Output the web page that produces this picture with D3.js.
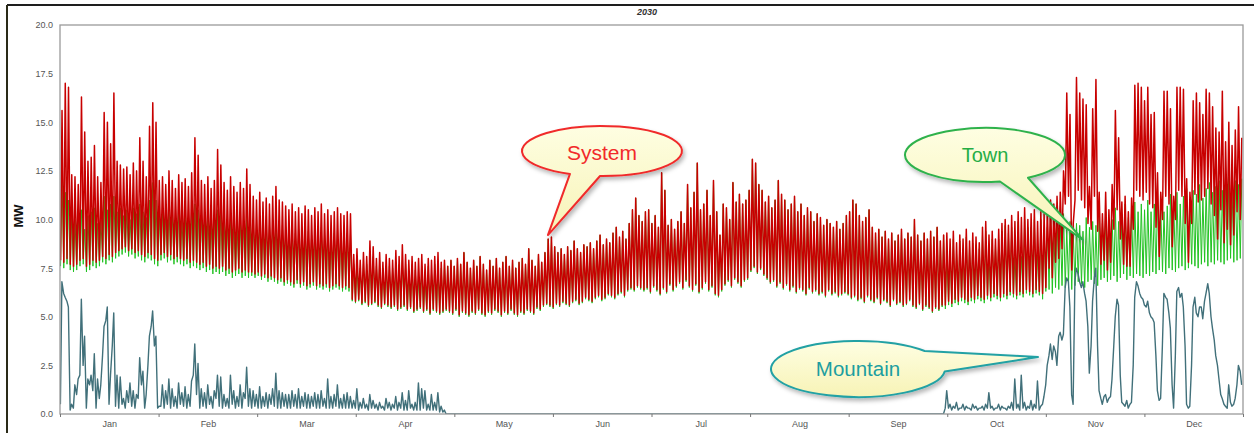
<!DOCTYPE html>
<html>
<head>
<meta charset="utf-8">
<script src="https://cdn.jsdelivr.net/npm/d3@7/dist/d3.min.js"></script>
<style>
html,body{margin:0;padding:0;background:#fff;}
svg{display:block;font-family:"Liberation Sans",Arial,sans-serif;}
</style>
</head>
<body>
<svg id="chart" width="1254" height="433"></svg>
<script>
// ---------------- DATA (one low/high pair per day, grouped by month) ----------------
const chartTitle = "2030";
const yLabel = "MW";
const monthNames = ["Jan","Feb","Mar","Apr","May","Jun","Jul","Aug","Sep","Oct","Nov","Dec"];
const monthDays = [31,28,31,30,31,30,31,31,30,31,30,31];
const yTickValues = [0,2.5,5,7.5,10,12.5,15,17.5,20];

// System daily peaks (MW)
const systemHigh = [
 [15.6,17.0,16.8,12.3,12.2,11.8,16.3,14.5,13.0,13.2,13.8,12.2,11.9,15.5,15.0,13.9,16.5,13.0,12.8,12.6,12.7,12.3,12.9,12.5,14.2,13.0,12.2,14.8,16.0,15.0,12.0],
 [12.2,11.8,12.5,12.0,11.6,12.3,11.9,12.1,11.7,12.4,14.2,13.3,12.0,11.8,12.2,11.6,12.0,13.6,12.8,11.9,11.5,12.2,11.7,11.4,11.9,11.6,12.6,11.8],
 [11.2,11.0,11.4,10.9,11.1,10.8,11.2,11.7,11.0,10.9,10.7,10.5,10.8,10.4,10.6,10.3,10.7,10.5,10.2,10.6,10.4,10.8,10.3,10.5,10.2,10.4,10.6,10.3,10.2,10.4,10.3],
 [8.2,8.5,7.9,8.3,8.1,8.9,8.6,8.0,8.3,7.8,8.2,8.0,7.9,8.4,8.1,8.7,8.2,7.9,8.1,7.8,8.0,8.2,7.7,8.0,7.9,8.1,8.3,7.8,7.9,7.6],
 [7.9,7.6,8.0,7.7,8.3,7.8,7.5,7.9,7.6,8.1,7.7,7.4,7.9,7.6,8.0,7.5,7.8,8.1,7.6,7.9,7.5,7.8,8.0,7.7,8.5,7.9,7.6,8.2,7.8,8.3,9.0],
 [9.1,8.6,8.3,8.5,8.2,8.6,8.4,8.9,8.5,8.3,8.7,8.6,8.8,8.5,8.9,9.2,8.7,9.0,8.8,9.3,9.6,9.1,9.4,9.0,9.8,10.5,11.1,10.2,9.9,10.4],
 [10.5,9.8,10.2,9.6,12.4,11.5,9.7,10.0,9.5,9.9,10.4,9.8,11.8,10.6,11.4,12.9,10.5,10.8,11.5,10.2,12.0,10.4,9.2,10.8,10.6,10.0,11.9,10.9,11.3,10.8,11.0],
 [11.5,13.1,12.9,11.8,11.5,10.9,11.2,10.6,11.0,12.0,11.3,11.0,10.5,10.8,11.2,10.4,10.8,10.2,10.6,10.4,9.9,10.3,10.1,9.7,10.0,9.8,9.6,9.9,9.5,9.8,10.2],
 [10.4,11.0,10.8,10.2,9.9,10.1,10.5,9.6,9.3,9.5,9.1,9.4,9.0,9.3,8.9,9.2,9.5,9.0,9.3,9.1,10.0,9.2,8.9,9.3,9.0,9.4,9.1,9.6,8.9,9.2],
 [9.3,9.0,9.4,8.8,9.2,9.0,9.5,8.9,9.3,9.1,8.8,9.6,9.9,9.2,9.4,9.0,9.5,9.8,10.0,9.7,10.2,9.9,10.4,10.1,10.6,10.0,10.3,10.5,9.9,10.4,10.3],
 [10.5,11.0,10.8,11.2,11.4,12.5,16.5,15.4,9.8,17.3,16.5,16.2,15.9,11.7,15.7,17.2,11.4,10.3,11.4,10.5,11.8,15.6,14.2,10.9,11.2,10.4,11.1,16.9,17.0,16.8],
 [16.1,16.8,15.4,15.5,12.4,11.4,16.6,16.6,15.7,11.2,16.8,16.8,16.7,12.1,11.4,16.1,16.5,16.0,15.4,16.7,16.5,15.8,14.7,14.5,16.6,14.0,15.0,13.8,14.6,15.8,14.2]
];
// System daily lows (MW)
const systemLow = [
 [7.9,7.8,8.0,7.7,7.6,7.7,7.9,8.0,7.6,7.7,7.9,7.8,7.9,8.1,8.0,8.2,8.1,8.3,8.4,8.5,8.6,8.4,8.5,8.3,8.4,8.2,8.1,8.3,8.2,8.0,7.9],
 [8.2,8.3,8.1,8.2,8.0,8.1,8.0,7.9,8.0,7.8,7.9,7.8,7.7,7.8,7.6,7.7,7.5,7.6,7.5,7.6,7.4,7.5,7.3,7.4,7.5,7.3,7.4,7.3],
 [7.3,7.2,7.3,7.1,7.2,7.0,7.1,7.0,6.9,7.0,6.8,6.9,6.8,6.7,6.9,6.7,6.8,6.6,6.7,6.8,6.6,6.7,6.6,6.7,6.5,6.6,6.7,6.6,6.5,6.6,6.5],
 [5.9,5.8,5.9,5.7,5.8,5.6,5.7,5.8,5.6,5.5,5.7,5.6,5.5,5.6,5.4,5.5,5.6,5.4,5.5,5.3,5.4,5.5,5.3,5.4,5.2,5.4,5.3,5.2,5.3,5.4],
 [5.3,5.2,5.4,5.1,5.3,5.2,5.1,5.3,5.2,5.4,5.2,5.1,5.3,5.2,5.4,5.3,5.1,5.3,5.2,5.4,5.2,5.1,5.3,5.2,5.4,5.3,5.2,5.5,5.4,5.6,5.7],
 [5.6,5.5,5.7,5.6,5.8,5.7,5.6,5.8,5.9,5.7,5.8,6.0,5.9,5.8,6.0,6.1,5.9,6.0,6.2,6.1,6.0,6.2,6.3,6.1,6.4,6.5,6.4,6.6,6.5,6.4],
 [6.5,6.3,6.6,6.4,6.2,6.5,6.3,6.7,6.4,6.6,6.8,6.5,6.9,6.6,6.4,6.7,6.3,6.5,6.8,6.4,6.6,6.2,6.1,6.4,6.7,6.9,6.6,7.0,6.8,6.6,6.9],
 [7.0,7.4,7.6,7.3,7.5,7.2,7.0,6.8,6.9,6.6,6.8,6.5,6.7,6.4,6.6,6.3,6.5,6.4,6.2,6.5,6.3,6.4,6.2,6.3,6.1,6.4,6.2,6.3,6.1,6.2,6.3],
 [6.2,6.0,6.1,5.9,6.0,5.8,6.1,5.9,5.8,6.0,5.7,5.9,5.8,5.6,5.9,5.7,5.8,5.6,5.7,5.9,5.6,5.5,5.7,5.4,5.6,5.5,5.3,5.5,5.4,5.6],
 [5.6,5.8,5.7,5.9,5.8,6.0,5.9,5.8,6.0,5.9,6.1,6.0,5.9,6.1,6.0,6.2,6.1,6.0,6.2,6.1,6.3,6.2,6.1,6.3,6.2,6.4,6.3,6.2,6.4,6.3,6.2],
 [6.5,7.5,7.0,7.8,8.0,8.5,10.8,11.2,7.4,11.0,11.5,11.0,10.6,9.8,9.5,11.2,9.4,7.7,7.9,7.4,7.8,9.5,10.5,9.0,7.7,7.6,7.6,9.5,11.5,11.2],
 [11.0,11.4,10.8,10.6,9.6,8.1,10.0,11.2,10.8,8.6,10.0,11.5,11.2,9.8,7.8,9.8,11.3,10.9,11.0,11.2,11.6,10.8,10.2,9.0,10.5,8.8,9.5,8.7,9.2,10.4,10.0]
];
// Town daily peaks (MW)
const townHigh = [
 [12.0,11.4,11.0,10.2,10.0,10.3,10.5,9.5,10.2,10.4,10.6,9.8,10.0,11.2,10.5,10.8,11.2,10.4,10.6,10.2,10.5,10.0,10.6,10.3,10.8,10.4,10.1,11.0,11.9,11.0,10.2],
 [10.4,10.2,10.6,10.3,10.0,10.5,10.1,10.3,10.0,10.4,10.8,10.5,10.2,10.0,10.3,9.9,10.1,10.5,10.4,10.0,9.8,10.2,9.9,9.7,10.0,9.8,10.2,9.9],
 [10.0,9.8,10.1,9.8,9.9,9.7,10.0,10.2,9.8,9.7,9.6,9.5,9.7,9.3,9.5,9.3,9.5,9.4,9.2,9.5,9.3,9.6,9.2,9.4,9.2,9.3,9.5,9.3,9.2,9.3,9.3],
 [7.7,7.6,7.5,7.7,7.7,8.2,8.1,7.6,7.9,7.5,7.6,7.6,7.5,7.8,7.7,7.9,7.7,7.1,7.7,7.4,6.9,7.6,6.9,7.6,7.2,7.7,7.5,7.5,7.8,7.6],
 [7.9,7.6,8.0,7.7,8.3,7.8,7.5,7.9,7.6,8.1,7.7,7.4,7.9,7.6,8.0,7.5,7.8,8.1,7.6,7.9,7.5,7.8,8.0,7.7,8.5,7.9,7.6,8.2,7.8,8.3,9.0],
 [9.1,8.6,8.3,8.5,8.2,8.6,8.4,8.9,8.5,8.3,8.7,8.6,8.8,8.5,8.9,9.2,8.7,9.0,8.8,9.3,9.6,9.1,9.4,9.0,9.8,10.5,11.1,10.2,9.9,10.4],
 [10.5,9.8,10.2,9.6,12.4,11.5,9.7,10.0,9.5,9.9,10.4,9.8,11.8,10.6,11.4,12.9,10.5,10.8,11.5,10.2,12.0,10.4,9.2,10.8,10.6,10.0,11.9,10.9,11.3,10.8,11.0],
 [11.5,13.1,12.9,11.8,11.5,10.9,11.2,10.6,11.0,12.0,11.3,11.0,10.5,10.8,11.2,10.4,10.8,10.2,10.6,10.4,9.9,10.3,10.1,9.7,10.0,9.8,9.6,9.9,9.5,9.8,10.2],
 [10.4,11.0,10.8,10.2,9.9,10.1,10.5,9.6,9.3,9.5,9.1,9.4,9.0,9.3,8.9,9.2,9.5,9.0,9.3,9.1,10.0,9.2,8.9,9.3,9.0,9.4,9.1,9.6,8.9,9.2],
 [8.1,8.5,9.0,8.2,8.9,8.5,9.1,8.6,8.8,8.7,8.5,9.2,9.4,8.1,9.0,8.7,9.0,9.4,9.7,9.3,9.6,8.1,9.9,8.1,10.0,9.6,9.6,10.0,8.2,10.0,9.4],
 [9.6,10.2,9.4,10.5,9.8,10.3,9.5,9.9,9.3,9.8,9.7,9.4,10.1,9.6,9.9,9.7,10.2,9.8,10.4,9.7,10.0,10.6,9.9,10.3,10.8,10.1,10.5,10.9,10.4,10.8],
 [10.5,11.0,10.4,10.8,11.2,10.6,10.4,10.7,11.3,10.9,11.4,10.8,11.2,11.6,11.0,11.5,11.3,11.8,11.1,11.6,11.9,11.4,11.7,12.0,11.5,11.9,12.2,11.6,12.0,11.8,12.1]
];
// Town daily lows (MW)
const townLow = [
 [7.6,7.5,7.7,7.4,7.3,7.4,7.6,7.7,7.3,7.4,7.6,7.5,7.6,7.8,7.7,7.9,7.8,8.0,8.1,8.2,8.3,8.1,8.2,8.0,8.1,7.9,7.8,8.0,7.9,7.7,7.6],
 [7.9,8.0,7.8,7.9,7.7,7.8,7.7,7.6,7.7,7.5,7.6,7.5,7.4,7.5,7.3,7.4,7.2,7.3,7.2,7.3,7.1,7.2,7.0,7.1,7.2,7.0,7.1,7.0],
 [7.1,7.0,7.1,6.9,7.0,6.8,6.9,6.8,6.7,6.8,6.6,6.7,6.6,6.5,6.7,6.5,6.6,6.4,6.5,6.6,6.4,6.5,6.4,6.5,6.3,6.4,6.5,6.4,6.3,6.4,6.3],
 [5.8,5.7,5.8,5.6,5.7,5.5,5.6,5.7,5.5,5.4,5.6,5.5,5.4,5.5,5.3,5.4,5.5,5.3,5.4,5.2,5.3,5.4,5.2,5.3,5.1,5.3,5.2,5.1,5.2,5.3],
 [5.2,5.1,5.3,5.0,5.2,5.1,5.0,5.2,5.1,5.3,5.1,5.0,5.2,5.1,5.3,5.2,5.0,5.2,5.1,5.3,5.1,5.0,5.2,5.1,5.3,5.2,5.1,5.4,5.3,5.5,5.6],
 [5.5,5.4,5.6,5.5,5.7,5.6,5.5,5.7,5.8,5.6,5.7,5.9,5.8,5.7,5.9,6.0,5.8,5.9,6.1,6.0,5.9,6.1,6.2,6.0,6.3,6.4,6.3,6.5,6.4,6.3],
 [6.4,6.2,6.5,6.3,6.1,6.4,6.2,6.6,6.3,6.5,6.7,6.4,6.8,6.5,6.3,6.6,6.2,6.4,6.7,6.3,6.5,6.1,6.0,6.3,6.6,6.8,6.5,6.9,6.7,6.5,6.8],
 [6.9,7.3,7.5,7.2,7.4,7.1,6.9,6.7,6.8,6.5,6.7,6.4,6.6,6.3,6.5,6.2,6.4,6.3,6.1,6.4,6.2,6.3,6.1,6.2,6.0,6.3,6.1,6.2,6.0,6.1,6.2],
 [6.1,5.9,6.0,5.8,5.9,5.7,6.0,5.8,5.7,5.9,5.6,5.8,5.7,5.5,5.8,5.6,5.7,5.5,5.6,5.8,5.5,5.4,5.6,5.3,5.5,5.4,5.2,5.4,5.3,5.5],
 [5.4,5.6,5.5,5.7,5.6,5.8,5.7,5.6,5.8,5.7,5.9,5.8,5.7,5.9,5.8,6.0,5.9,5.8,6.0,5.9,6.1,6.0,5.9,6.1,6.0,6.2,6.1,6.0,6.2,6.1,5.9],
 [6.3,6.4,6.2,6.5,6.4,6.6,6.5,6.7,6.4,6.6,6.8,6.7,6.5,6.8,6.9,6.7,6.6,6.9,7.0,6.8,6.9,7.1,6.8,7.0,7.2,6.9,7.1,7.0,7.2,7.1],
 [7.0,7.2,7.1,7.3,7.2,7.4,7.3,7.2,7.5,7.4,7.3,7.5,7.6,7.4,7.5,7.7,7.6,7.5,7.7,7.8,7.6,7.8,7.7,7.9,7.8,7.7,7.9,8.0,7.8,7.9,8.0]
];
// Mountain, night-time value per day (MW)
const mountainNight = [
 [0.5,6.2,5.8,0.2,0.3,1.0,2.0,2.5,0.3,1.5,1.2,0.3,0.8,3.0,4.8,0.5,3.5,0.4,0.3,0.5,0.3,0.6,0.4,0.3,0.8,1.5,0.3,2.5,4.5,3.5,0.3],
 [0.4,0.3,0.5,0.3,0.4,0.3,0.5,0.4,0.3,0.4,2.0,1.0,0.3,0.4,0.3,0.5,0.3,0.8,0.4,0.3,0.4,0.3,0.5,0.3,0.4,0.3,0.8,0.4],
 [0.3,0.4,0.3,0.3,0.4,0.3,0.5,0.4,0.3,0.3,0.4,0.3,0.3,0.4,0.3,0.3,0.4,0.3,0.3,0.4,0.3,0.3,0.4,0.3,0.3,0.3,0.4,0.3,0.3,0.3,0.3],
 [0.3,0.3,0.2,0.3,0.3,0.2,0.3,0.3,0.2,0.3,0.2,0.3,0.2,0.3,0.2,0.3,0.2,0.2,0.3,0.2,0.2,0.2,0.3,0.2,0.2,0.2,0.2,0.1,0.1,0.0],
 [0,0,0,0,0,0,0,0,0,0,0,0,0,0,0,0,0,0,0,0,0,0,0,0,0,0,0,0,0,0,0],
 [0,0,0,0,0,0,0,0,0,0,0,0,0,0,0,0,0,0,0,0,0,0,0,0,0,0,0,0,0,0],
 [0,0,0,0,0,0,0,0,0,0,0,0,0,0,0,0,0,0,0,0,0,0,0,0,0,0,0,0,0,0,0],
 [0,0,0,0,0,0,0,0,0,0,0,0,0,0,0,0,0,0,0,0,0,0,0,0,0,0,0,0,0,0,0],
 [0,0,0,0,0,0,0,0,0,0,0,0,0,0,0,0,0,0,0,0,0,0,0,0,0,0,0,0,0,0],
 [0.3,0.3,0.2,0.3,0.2,0.3,0.2,0.3,0.2,0.3,0.2,0.3,0.2,0.3,0.3,0.2,0.3,0.2,0.3,0.2,0.3,0.2,0.3,0.2,0.3,0.2,0.3,0.2,0.3,0.2,0.5],
 [1.5,3.0,2.8,3.2,4.0,3.8,6.5,6.8,1.0,6.8,7.2,6.5,6.2,4.5,3.5,7.0,3.5,0.8,0.9,0.6,0.9,3.5,5.9,2.0,0.5,0.7,0.5,2.5,6.8,6.2],
 [5.9,5.5,5.2,4.9,3.0,0.7,3.5,6.0,5.2,1.5,3.0,6.5,6.2,3.5,0.3,2.5,6.0,5.0,5.5,5.8,6.7,5.0,3.8,2.5,1.0,0.5,0.3,0.6,0.5,1.5,2.2]
];
// Mountain, day-time value per day (MW)
const mountainDay = [
 [6.8,6.0,5.5,0.5,1.5,1.8,5.9,4.0,1.8,2.0,3.1,1.8,1.5,4.5,5.5,2.0,5.2,2.0,1.9,0.8,1.2,1.6,1.2,1.0,2.9,2.2,1.0,4.0,5.3,4.0,0.4],
 [1.5,1.2,1.8,1.3,0.9,1.6,1.1,1.4,1.0,1.7,3.6,2.6,1.3,1.1,1.5,0.9,1.2,2.0,1.9,1.0,0.8,2.0,1.2,0.9,1.5,1.1,2.4,1.3],
 [1.2,1.0,1.4,0.9,1.1,1.0,1.3,2.1,1.2,1.1,1.0,1.0,1.2,1.0,1.3,0.9,1.1,1.0,0.9,1.1,1.0,1.2,0.8,1.8,0.9,1.0,1.5,0.8,1.0,1.1,0.9],
 [0.7,1.3,0.6,0.8,0.5,1.0,0.7,0.5,0.6,0.4,0.8,0.6,0.5,0.9,0.6,1.1,0.7,1.2,0.5,0.6,1.6,1.3,1.2,0.5,1.0,0.6,1.1,0.4,0.2,0.0],
 [0,0,0,0,0,0,0,0,0,0,0,0,0,0,0,0,0,0,0,0,0,0,0,0,0,0,0,0,0,0,0],
 [0,0,0,0,0,0,0,0,0,0,0,0,0,0,0,0,0,0,0,0,0,0,0,0,0,0,0,0,0,0],
 [0,0,0,0,0,0,0,0,0,0,0,0,0,0,0,0,0,0,0,0,0,0,0,0,0,0,0,0,0,0,0],
 [0,0,0,0,0,0,0,0,0,0,0,0,0,0,0,0,0,0,0,0,0,0,0,0,0,0,0,0,0,0,0],
 [0,0,0,0,0,0,0,0,0,0,0,0,0,0,0,0,0,0,0,0,0,0,0,0,0,0,0,0,0,0],
 [1.2,0.5,0.4,0.6,0.3,0.5,0.4,0.3,0.5,0.4,0.3,0.4,0.5,1.1,0.4,0.3,0.5,0.4,0.3,0.4,0.6,1.8,0.5,2.0,0.6,0.4,0.7,0.5,1.7,0.4,0.9],
 [2.5,3.6,3.5,2.5,4.2,4.1,7.0,5.5,0.5,7.5,6.8,6.8,5.8,2.1,5.8,7.5,1.2,0.5,1.0,0.8,1.8,5.0,5.6,0.6,0.4,0.3,0.6,6.0,6.6,6.0],
 [5.6,5.8,5.0,4.7,1.2,0.8,6.2,5.9,4.4,0.3,6.3,6.0,5.5,0.5,0.4,5.5,5.2,5.5,4.9,6.2,6.2,4.4,3.0,1.8,0.8,0.4,1.5,0.4,0.8,2.5,1.5]
];
// Callout labels: text and the data point each tail points at [hour of year, MW]
const calloutSystem = {text:"System", tip:[3613, 9.2]};
const calloutTown = {text:"Town", tip:[7575, 8.95]};
const calloutMountain = {text:"Mountain", tip:[7242, 2.93]};

// ---------------- CHART ----------------
const W = 1254, H = 433;
const X0 = 60, X1 = 1243, Y0 = 414, Y1 = 25;
const HOURS = 8760, MONTH_H = 730;
const svg = d3.select("#chart");
const x = d3.scaleLinear().domain([0, HOURS]).range([X0, X1]);
const y = d3.scaleLinear().domain([0, 20]).range([Y0, Y1]);

svg.append("rect").attr("width", W).attr("height", H).attr("fill", "#fff");

const defs = svg.append("defs");
defs.append("clipPath").attr("id", "plotClip")
  .append("rect").attr("x", X0).attr("y", Y1).attr("width", X1 - X0).attr("height", Y0 - Y1);
const flt = defs.append("filter").attr("id", "shadow")
  .attr("x", "-20%").attr("y", "-30%").attr("width", "140%").attr("height", "170%");
flt.append("feDropShadow").attr("dx", 2).attr("dy", 3).attr("stdDeviation", 2.2)
  .attr("flood-color", "#000").attr("flood-opacity", 0.28);
const grad = defs.append("linearGradient").attr("id", "bubbleFill")
  .attr("x1", 0).attr("y1", 0).attr("x2", 0).attr("y2", 1);
grad.append("stop").attr("offset", "0%").attr("stop-color", "#fefee2");
grad.append("stop").attr("offset", "100%").attr("stop-color", "#f7f3b6");

// outer frame
svg.append("line").attr("x1", 7).attr("x2", W).attr("y1", 5).attr("y2", 5)
  .attr("stroke", "#1e1e1e").attr("stroke-width", 2);
svg.append("line").attr("x1", 7).attr("x2", 7).attr("y1", 5).attr("y2", H)
  .attr("stroke", "#2a2a18").attr("stroke-width", 2);

// title
svg.append("text").attr("x", 647).attr("y", 15).attr("text-anchor", "middle")
  .attr("font-size", 9).attr("font-style", "italic").attr("font-weight", "bold")
  .attr("fill", "#333").text(chartTitle);

// build series: two points per day
function buildSeries(a, b, ha, hb) {
  const pts = [];
  let start = 0;
  a.forEach((mArr, m) => {
    mArr.forEach((v, i) => {
      const d = start + i;
      pts.push([d * 24 + ha, v]);
      if (b[m] && b[m][i] !== undefined) pts.push([d * 24 + hb, b[m][i]]);
    });
    start += monthDays[m];
  });
  return pts;
}
const line = d3.line().x(d => x(d[0])).y(d => y(d[1]));
const plot = svg.append("g").attr("clip-path", "url(#plotClip)");

plot.append("path").datum(buildSeries(townLow, townHigh, 4, 15)).attr("d", line)
  .attr("fill", "none").attr("stroke", "#22c222").attr("stroke-width", 1.0).attr("stroke-linejoin", "round");
plot.append("path").datum(buildSeries(systemLow, systemHigh, 4, 15)).attr("d", line)
  .attr("fill", "none").attr("stroke", "#c80000").attr("stroke-width", 1.5).attr("stroke-linejoin", "round");
plot.append("path").datum(buildSeries(mountainNight, mountainDay, 3, 14)).attr("d", line)
  .attr("fill", "none").attr("stroke", "#41707a").attr("stroke-width", 1.4).attr("stroke-linejoin", "round");

// plot border
svg.append("rect").attr("x", X0).attr("y", Y1).attr("width", X1 - X0).attr("height", Y0 - Y1)
  .attr("fill", "none").attr("stroke", "#9a9a9a").attr("stroke-width", 1.3);

// x axis: month boundary ticks + centered month labels
const xt = svg.append("g").attr("transform", `translate(0,${Y0})`)
  .call(d3.axisBottom(x).tickValues(d3.range(monthNames.length + 1).map(k => k * MONTH_H)).tickSize(3).tickFormat(""));
xt.select(".domain").remove();
xt.selectAll(".tick line").attr("stroke", "#777");
const xl = svg.append("g").attr("transform", `translate(0,${Y0})`)
  .call(d3.axisBottom(x).tickValues(monthNames.map((m, i) => (i + 0.5) * MONTH_H)).tickSize(0).tickPadding(7)
    .tickFormat((d, i) => monthNames[i]));
xl.select(".domain").remove();
xl.selectAll("text").attr("font-size", 9).attr("fill", "#555").attr("font-family", "Liberation Sans, Arial, sans-serif");

// y axis
const ya = svg.append("g").attr("transform", `translate(${X0},0)`)
  .call(d3.axisLeft(y).tickValues(yTickValues).tickFormat(d3.format(".1f")).tickSize(0).tickPadding(7));
ya.select(".domain").remove();
ya.selectAll("text").attr("font-size", 9).attr("fill", "#555").attr("font-family", "Liberation Sans, Arial, sans-serif");

svg.append("text").attr("transform", "translate(23,216) rotate(-90)").attr("text-anchor", "middle")
  .attr("font-size", 13).attr("font-weight", "bold").attr("fill", "#111").text(yLabel);

// callout bubbles
function bubble(cx, cy, rx, ry, tA, tB, tipData, stroke, textColor, label, fs, baseY) {
  const r = Math.PI / 180;
  const p = t => [cx + rx * Math.cos(t * r), cy + ry * Math.sin(t * r)];
  const a = p(tA), b = p(tB);
  const tip = [x(tipData[0]), y(tipData[1])];
  const g = svg.append("g").attr("filter", "url(#shadow)");
  g.append("path")
    .attr("d", `M${b[0]},${b[1]} A${rx},${ry} 0 1 1 ${a[0]},${a[1]} L${tip[0]},${tip[1]} Z`)
    .attr("fill", "url(#bubbleFill)").attr("stroke", stroke).attr("stroke-width", 2).attr("stroke-linejoin", "round");
  svg.append("text").attr("x", cx).attr("y", baseY).attr("text-anchor", "middle")
    .attr("font-size", fs).attr("fill", textColor).text(label);
}
bubble(602, 151, 80, 25, 91.4, 113.6, calloutSystem.tip, "#f02a2a", "#f22a2a", calloutSystem.text, 21, 160);
bubble(985, 155, 80, 27, 57.5, 79.2, calloutTown.tip, "#2fb24c", "#25ad45", calloutTown.text, 20, 162);
bubble(858, 369, 87, 28, -40, 5, calloutMountain.tip, "#22a1a4", "#1c9ea0", calloutMountain.text, 20.5, 376);
</script>
</body>
</html>
